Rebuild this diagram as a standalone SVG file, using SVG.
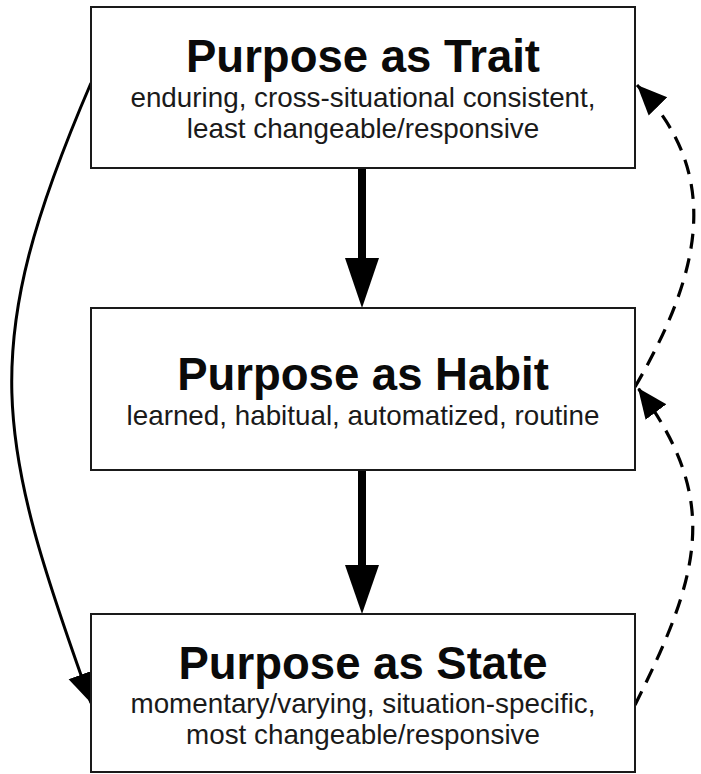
<svg xmlns="http://www.w3.org/2000/svg" width="701" height="774" viewBox="0 0 701 774">
  <style>
    .box { fill: #ffffff; stroke: #1a1a1a; stroke-width: 2; }
    .title { font-family: "Liberation Sans", Arial, Helvetica, sans-serif; font-weight: bold; font-size: 45.5px; fill: #0a0a0a; text-anchor: middle; }
    .sub { font-family: "Liberation Sans", Arial, Helvetica, sans-serif; font-size: 27.8px; fill: #1a1a1a; text-anchor: middle; }
    .solid { fill: none; stroke: #000; stroke-width: 3; }
    .dashed { fill: none; stroke: #000; stroke-width: 3.2; stroke-dasharray: 15 10; }
    .thick { stroke: #000; stroke-width: 8; }
    .head { fill: #000; }
  </style>
  <defs>
    <marker id="arrow" markerUnits="userSpaceOnUse" markerWidth="32" markerHeight="28" refX="30" refY="13" orient="auto" viewBox="0 0 32 26">
      <path d="M0,0 L30,13 L0,26 Z" fill="#000"/>
    </marker>
  </defs>
  <rect width="701" height="774" fill="#ffffff"/>

  <g id="connectors">
    <g id="trait-to-habit">
      <line class="thick" x1="362" y1="168" x2="362" y2="262"/>
      <polygon class="head" points="345,258 379,258 362,308"/>
    </g>
    <g id="habit-to-state">
      <line class="thick" x1="362" y1="470" x2="362" y2="569"/>
      <polygon class="head" points="345,565 379,565 362,614"/>
    </g>
    <path id="trait-to-state" class="solid" d="M91,83 C-24,350 -5,436 91,703" marker-end="url(#arrow)"/>
    <path id="habit-to-trait" class="dashed" d="M635,387 C700,275 725,175 637,85" marker-end="url(#arrow)"/>
    <path id="state-to-habit" class="dashed" d="M635,705 C700,575 722,500 638,388" marker-end="url(#arrow)"/>
  </g>

  <g id="node-trait">
    <rect class="box" x="91" y="7" width="544" height="161"/>
    <text class="title" x="363" y="72">Purpose as Trait</text>
    <text class="sub" x="363" y="107">enduring, cross-situational consistent,</text>
    <text class="sub" x="363" y="138">least changeable/responsive</text>
  </g>

  <g id="node-habit">
    <rect class="box" x="91" y="308" width="544" height="162"/>
    <text class="title" x="363" y="390">Purpose as Habit</text>
    <text class="sub" x="363" y="425">learned, habitual, automatized, routine</text>
  </g>

  <g id="node-state">
    <rect class="box" x="91" y="614" width="544" height="158"/>
    <text class="title" x="363" y="679">Purpose as State</text>
    <text class="sub" x="363" y="713">momentary/varying, situation-specific,</text>
    <text class="sub" x="363" y="744">most changeable/responsive</text>
  </g>
</svg>
